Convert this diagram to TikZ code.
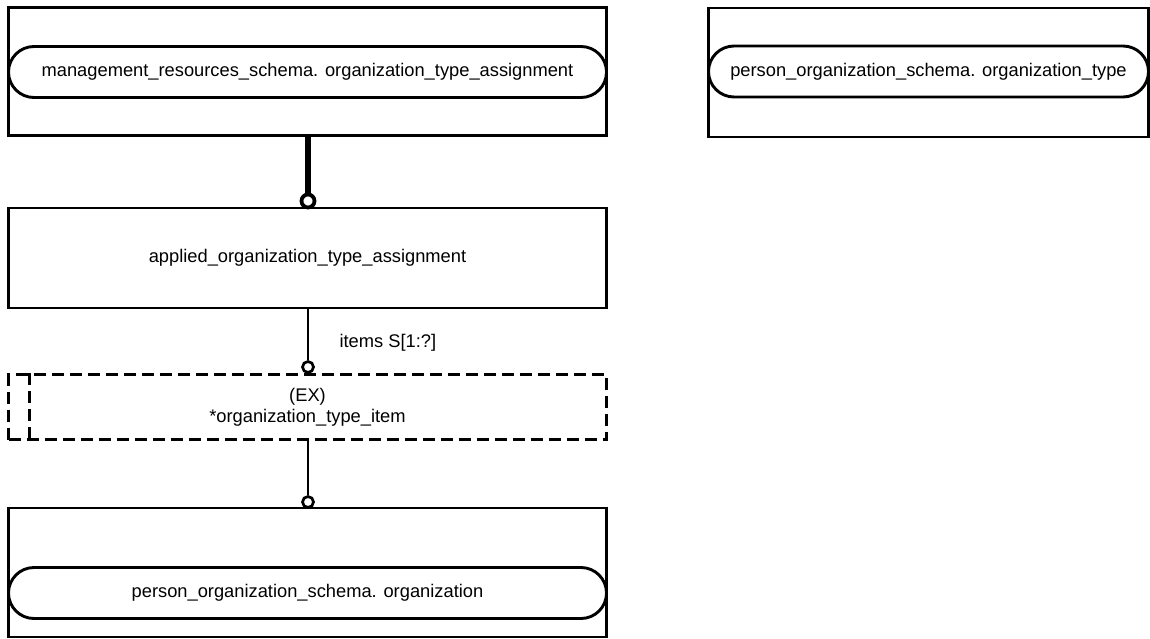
\documentclass[tikz,border=0pt]{standalone}
\usepackage{fontspec}
\setmainfont{Liberation Sans}
\usetikzlibrary{shapes.misc,calc}
\begin{document}
\begin{tikzpicture}[x=1pt,y=1pt,
  font=\fontsize{18.3}{21}\selectfont,
  entbox/.style={draw,line width=2.9pt,minimum width=598pt,inner sep=0pt},
  refpill/.style={draw,line width=2.9pt,rounded rectangle,minimum height=51pt,inner sep=0pt},
  selbox/.style={draw,line width=2.9pt,dash pattern=on 12pt off 6pt,minimum width=598pt,minimum height=65pt,inner sep=0pt,align=center},
  thickrel/.style={line width=6pt},
  thinrel/.style={line width=2.9pt},
  bigring/.style={circle,draw,fill=white,line width=3.8pt,minimum size=13pt,inner sep=0pt},
  smallring/.style={circle,draw,fill=white,line width=2.7pt,minimum size=11pt,inner sep=0pt}]
\useasboundingbox (0,0) rectangle (1150,-639);

% top-left entity
\node[entbox,minimum height=128pt] (mra) at (307.5,-71.5) {};
\node[refpill,minimum width=598pt] (mrap) at (307.5,-72) {management\_resources\_schema. organization\_type\_assignment};

% top-right entity
\node[entbox,minimum width=440pt,minimum height=129pt] (pot) at (928.5,-72.5) {};
\node[refpill,minimum width=440pt] (potp) at (928.5,-71.5) {person\_organization\_schema. organization\_type};

% middle entity
\node[entbox,minimum height=100pt] (aota) at (307.5,-258) {applied\_organization\_type\_assignment};

% select type
\node[selbox] (oti) at (307.5,-407) {(EX)\\*organization\_type\_item};
\draw[line width=2.9pt,dash pattern=on 12pt off 6pt] ($(oti.north west)+(22,0)$) -- ($(oti.south west)+(22,0)$);

% bottom entity
\node[entbox,minimum height=129pt] (org) at (307.5,-572.5) {};
\node[refpill,minimum width=598pt] (orgp) at (307.5,-593) {person\_organization\_schema. organization};

% rings
\node[bigring] (r1) at (308,-201) {};
\node[smallring] (r2) at (308,-367) {};
\node[smallring] (r3) at (308,-502) {};

% connectors
\draw[thickrel] (mra.south -| r1) -- (r1.north);
\draw[thinrel] (aota.south -| r2) -- (r2.north);
\draw[thinrel] (oti.south -| r3) -- (r3.north);

\node[anchor=west] (lbl) at (336,-343) {items S[1:?]};
\end{tikzpicture}
\end{document}
